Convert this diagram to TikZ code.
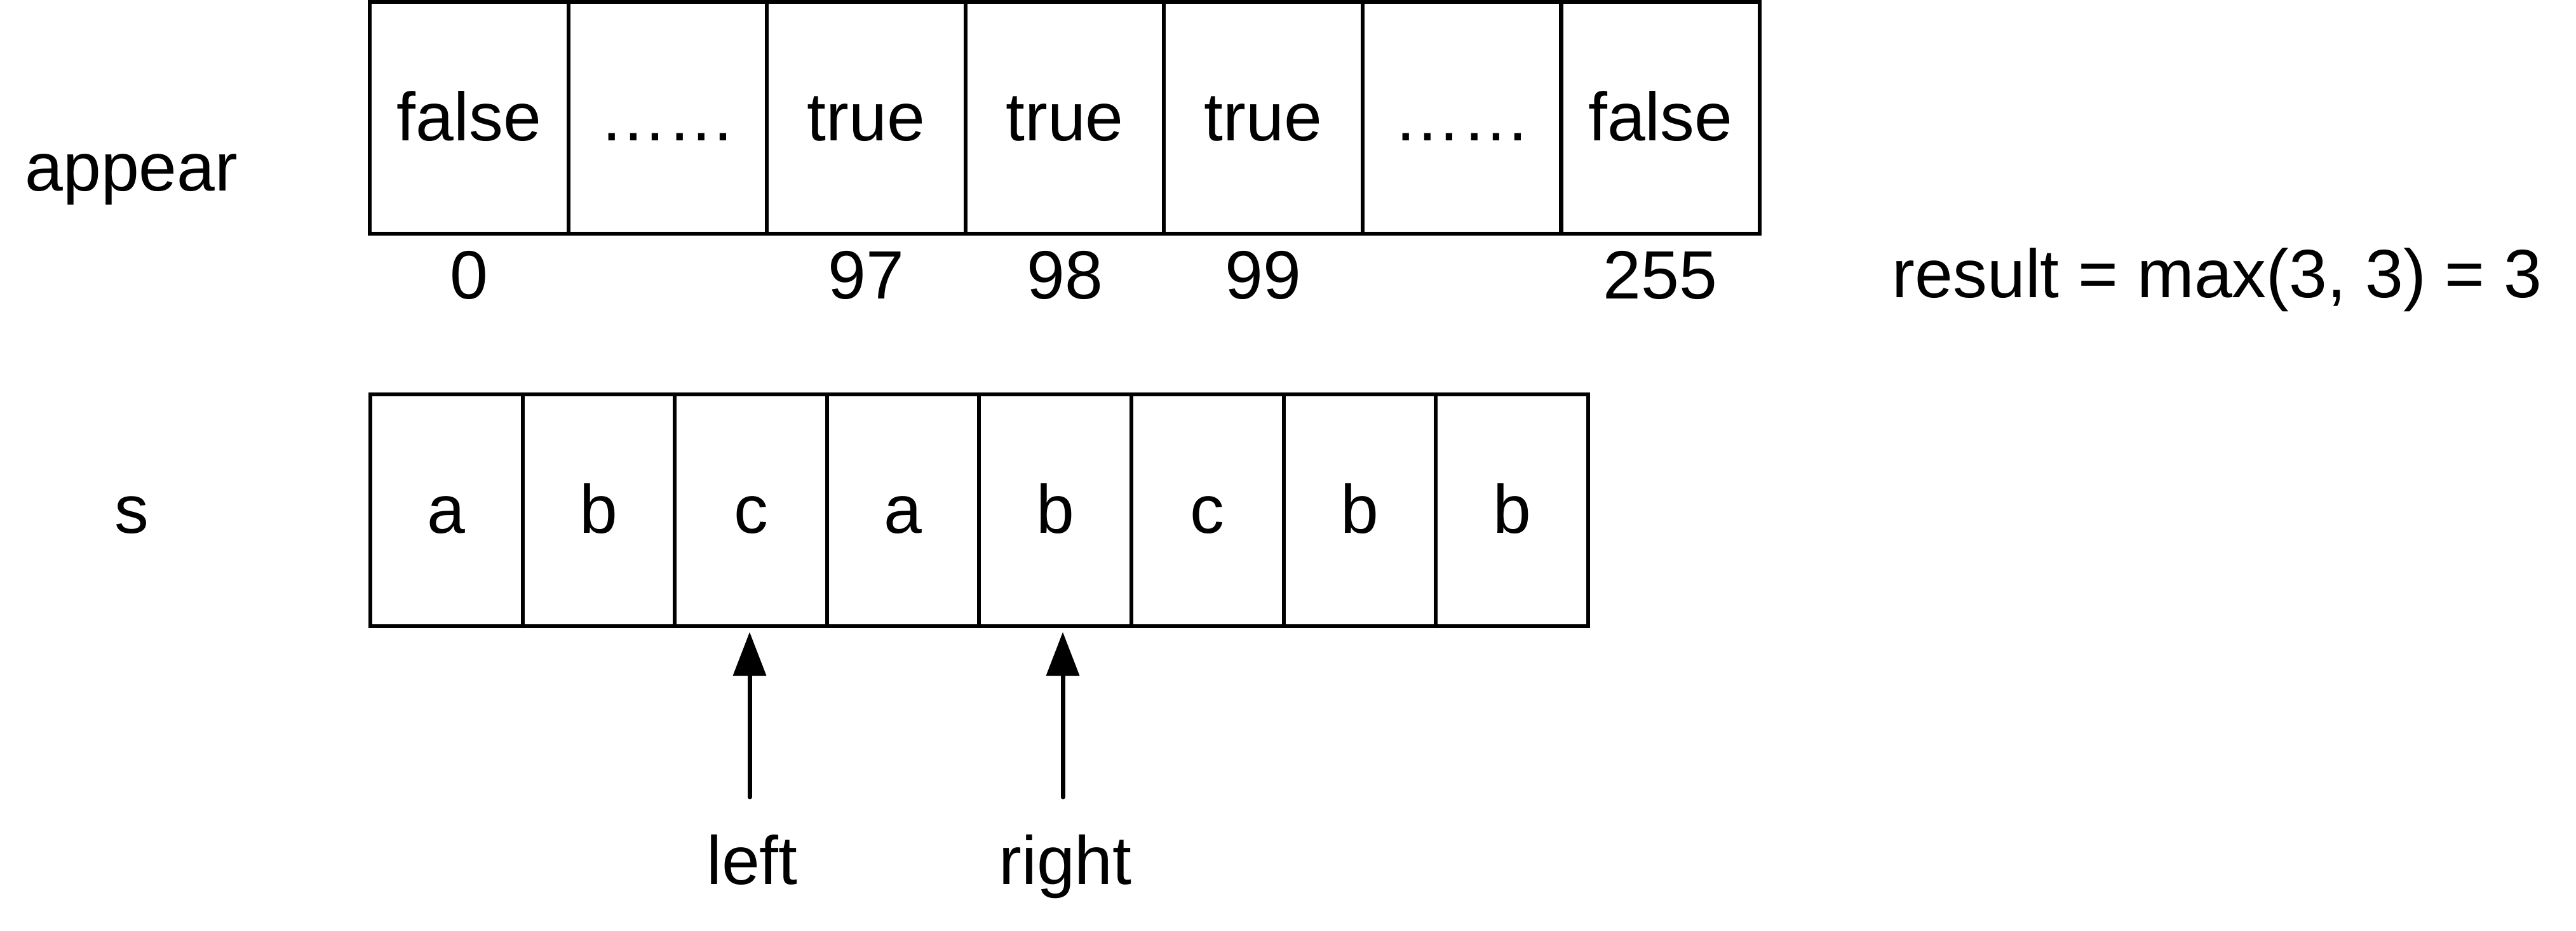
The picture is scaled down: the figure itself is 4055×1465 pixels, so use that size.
\documentclass[tikz,border=0pt]{standalone}
\usepackage{fontspec}
\setmainfont{Liberation Sans}
\usetikzlibrary{arrows.meta}
\begin{document}
\begin{tikzpicture}[x=0.01cm,y=-0.01cm,
  every node/.style={font=\fontsize{30.6}{36}\selectfont},
  topcell/.style={draw,line width=0.06cm,minimum width=3.1257cm,minimum height=3.65cm,inner sep=0pt,outer sep=0pt,text height=0.71cm,text depth=0cm},
  botcell/.style={topcell,minimum width=2.396cm},
  lbl/.style={anchor=base,inner sep=0pt},
  ptr/.style={line width=0.07cm,line cap=round,shorten >=0.09cm,-{Triangle[length=0.69cm,width=0.51cm]}}]
\useasboundingbox (0,0) rectangle (4055,1465);
% top array
\node[topcell] (t1) at (738.3,185.5) {false};
\node[topcell] (t2) at (1050.9,185.5) {……};
\node[topcell] (t3) at (1363.4,185.5) {true};
\node[topcell] (t4) at (1676.0,185.5) {true};
\node[topcell] (t5) at (1988.6,185.5) {true};
\node[topcell] (t6) at (2301.1,185.5) {……};
\node[topcell] (t7) at (2613.7,185.5) {false};
\node[lbl] (appear) at (207,300) {appear};
\node[lbl] (i0) at (738.3,470) {0};
\node[lbl] (i97) at (1363.4,470) {97};
\node[lbl] (i98) at (1676.0,470) {98};
\node[lbl] (i99) at (1988.6,470) {99};
\node[lbl] (i255) at (2613.7,470) {255};
\node[lbl,anchor=base west] (res) at (2978,468) {result = max(3, 3) = 3};
% bottom array
\node[lbl] (s) at (207,839) {s};
\node[botcell] (b1) at (702.8,803.5) {a};
\node[botcell] (b2) at (942.4,803.5) {b};
\node[botcell] (b3) at (1182.0,803.5) {c};
\node[botcell] (b4) at (1421.6,803.5) {a};
\node[botcell] (b5) at (1661.2,803.5) {b};
\node[botcell] (b6) at (1900.8,803.5) {c};
\node[botcell] (b7) at (2140.4,803.5) {b};
\node[botcell] (b8) at (2380.0,803.5) {b};
% pointers
\node[lbl] (left) at (1184,1392) {left};
\node[lbl] (right) at (1677,1392) {right};
\coordinate (lt) at (1180,1255);
\coordinate (rt) at (1673,1255);
\draw[ptr] (lt) -- (lt |- b3.south);
\draw[ptr] (rt) -- (rt |- b5.south);
\end{tikzpicture}
\end{document}
